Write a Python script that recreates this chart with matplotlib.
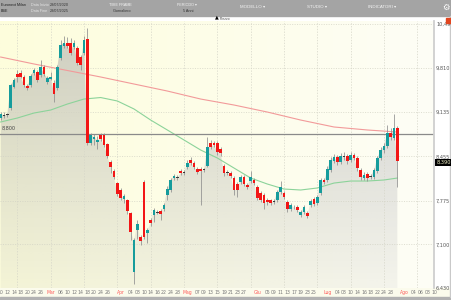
import numpy as np
import pandas as pd
import matplotlib
matplotlib.use("Agg")
import matplotlib.pyplot as plt
from matplotlib.patches import Polygon, Rectangle
from matplotlib.colors import to_rgb

# ---- values (daily candles, Borsa Italiana calendar) ----
START = "2025-02-10"
HOLIDAYS = ["2025-04-18", "2025-04-21", "2025-05-01"]

opens = [9044, 9090, 9090, 9198, 9521, 9721, 9736, 9675, 9536, 9552,
         9736, 9752, 9705, 9828, 9598, 9644, 9582, 9506, 9967, 10152,
         10198, 10198, 10136, 10121, 9982, 10044, 10259, 8660, 8721, 8675,
         8783, 8783, 8644, 8367, 8229, 8044, 7937, 7799, 7783, 7583,
         6677, 7322, 7214, 8060, 7275, 7475, 7552, 7598, 7614, 7645,
         7860, 7937, 8121, 8137, 8229, 8214, 8291, 8398, 8352, 8260,
         8260, 8260, 8306, 8660, 8660, 8660, 8567, 8306, 8214, 8198,
         8121, 8029, 8060, 8137, 8014, 8075, 8091, 7983, 7891, 7860,
         7783, 7783, 7752, 7783, 7906, 7891, 7752, 7645, 7675, 7675,
         7552, 7598, 7583, 7706, 7799, 7737, 7891, 8091, 8091, 8244,
         8383, 8444, 8367, 8444, 8460, 8398, 8475, 8429, 8244, 8121,
         8183, 8137, 8137, 8229, 8429, 8552, 8614, 8813, 8737, 8890]
closes = [9106, 9080, 9106, 9552, 9629, 9675, 9675, 9552, 9506, 9690,
          9782, 9629, 9828, 9721, 9659, 9675, 9413, 9828, 10167, 10198,
          10152, 10044, 10198, 9890, 9859, 10244, 8660, 8783, 8752, 8706,
          8721, 8629, 8460, 8291, 8137, 7875, 7814, 7845, 7614, 7291,
          7168, 7414, 7153, 7214, 7322, 7429, 7629, 7590, 7568, 7706,
          7952, 8091, 8152, 8121, 8198, 8206, 8352, 8352, 8291, 8214,
          8229, 8244, 8598, 8598, 8629, 8521, 8506, 8198, 8198, 8152,
          7937, 7937, 8137, 8029, 7983, 8137, 8044, 7814, 7783, 7737,
          7752, 7737, 7768, 7906, 7983, 7829, 7645, 7706, 7668, 7629,
          7598, 7675, 7537, 7768, 7721, 7829, 8091, 8060, 8260, 8398,
          8444, 8367, 8460, 8460, 8383, 8475, 8429, 8275, 8137, 8168,
          8121, 8152, 8244, 8429, 8552, 8614, 8813, 8752, 8890, 8390]
highs = [9136, 9136, 9120, 9567, 9659, 9782, 9782, 9705, 9567, 9721,
         9813, 9782, 9936, 9859, 9690, 9752, 9629, 9859, 10244, 10305,
         10290, 10275, 10244, 10152, 10013, 10305, 10428, 8813, 8798, 8767,
         8813, 8813, 8660, 8398, 8260, 8060, 7967, 7875, 7799, 7598,
         7199, 7475, 7245, 8091, 7352, 7506, 7660, 7629, 7645, 7737,
         7998, 8121, 8183, 8168, 8260, 8244, 8398, 8444, 8383, 8291,
         8291, 8275, 8752, 8706, 8691, 8691, 8598, 8337, 8244, 8229,
         8152, 8060, 8168, 8168, 8044, 8229, 8121, 8014, 7921, 7891,
         7814, 7799, 7799, 7937, 8075, 7921, 7783, 7737, 7706, 7706,
         7629, 7706, 7614, 7799, 7829, 7860, 8121, 8121, 8306, 8444,
         8490, 8475, 8506, 8521, 8490, 8521, 8506, 8460, 8275, 8214,
         8214, 8183, 8275, 8460, 8598, 8660, 8936, 8890, 9106, 8921]
lows = [9013, 9044, 9060, 9167, 9506, 9598, 9659, 9521, 9475, 9521,
        9705, 9598, 9675, 9690, 9567, 9629, 9290, 9475, 9936, 10121,
        10121, 10013, 10105, 9859, 9782, 10013, 8629, 8629, 8629, 8567,
        8691, 8598, 8429, 8198, 8106, 7845, 7783, 7737, 7568, 7168,
        6492, 7183, 7091, 7183, 7122, 7383, 7445, 7568, 7475, 7614,
        7783, 7906, 8091, 8091, 8168, 8168, 8260, 8321, 8260, 8183,
        7706, 8214, 8291, 8567, 8598, 8475, 8460, 8152, 8168, 8121,
        7860, 7829, 8029, 7998, 7952, 8044, 8014, 7783, 7752, 7645,
        7706, 7706, 7721, 7752, 7875, 7799, 7598, 7614, 7645, 7598,
        7522, 7568, 7506, 7675, 7691, 7706, 7860, 8029, 8060, 8214,
        8352, 8321, 8337, 8398, 8337, 8367, 8398, 8229, 8091, 8091,
        8075, 8106, 8106, 8198, 8398, 8506, 8583, 8706, 8706, 7983]

# moving averages sampled every few sessions (+ last session)
ma_slow_step = 10
ma_slow = [9982, 9875, 9775, 9675, 9567, 9459, 9336, 9244, 9136, 9013,
           8906, 8860, 8829]
ma_fast_step = 5
ma_fast = [8983, 9044, 9121, 9167, 9259, 9336, 9359, 9306, 9183, 9013,
           8860, 8706, 8552, 8429, 8275, 8121, 8029, 7952, 7937, 7968,
           8044, 8075, 8075, 8091, 8121]

ref_level = 8800
price_ticks = [10490, 9810, 9135, 8455, 7775, 7100, 6430]
tick_dates = ["2025-02-10", "2025-02-12", "2025-02-14", "2025-02-18", "2025-02-20",
              "2025-02-24", "2025-02-26",
              "2025-03-03", "2025-03-06", "2025-03-10", "2025-03-12", "2025-03-14",
              "2025-03-18", "2025-03-20", "2025-03-24", "2025-03-26",
              "2025-04-01", "2025-04-04", "2025-04-08", "2025-04-10", "2025-04-14",
              "2025-04-16", "2025-04-22", "2025-04-24", "2025-04-28",
              "2025-05-02", "2025-05-07", "2025-05-09", "2025-05-13", "2025-05-15",
              "2025-05-19", "2025-05-21", "2025-05-23", "2025-05-27",
              "2025-06-02", "2025-06-05", "2025-06-09", "2025-06-11", "2025-06-13",
              "2025-06-17", "2025-06-19", "2025-06-23", "2025-06-25",
              "2025-07-01", "2025-07-04", "2025-07-08", "2025-07-10", "2025-07-14",
              "2025-07-16", "2025-07-18", "2025-07-22", "2025-07-24", "2025-07-28",
              "2025-08-01", "2025-08-04", "2025-08-06", "2025-08-08", "2025-08-10"]
MESI = {2: "Feb", 3: "Mar", 4: "Apr", 5: "Mag", 6: "Giu", 7: "Lug", 8: "Ago"}

TEAL = "#169c9c"
RED = "#f21616"
W, H = 452, 300
TB_FONT = ["Liberation Sans", "DejaVu Sans"]


def fpos(x, y):
    """pixel (from top-left) -> figure fraction"""
    return x / W, 1 - y / H


# ---- calendar: trading days for the candles, calendar days after the last one ----
n = len(closes)
traded = pd.bdate_range(START, "2025-12-31", freq="C", holidays=HOLIDAYS)[:n]
future = pd.date_range(traded[-1] + pd.Timedelta(days=1), periods=30, freq="D")
days = traded.append(future)
idx = np.arange(n)
tpos = days.get_indexer(pd.to_datetime(tick_dates))
tlabels, tcolors = [], []
for d in pd.to_datetime(tick_dates):
    first = len(pd.bdate_range(d.replace(day=1), d, freq="C", holidays=HOLIDAYS)) == 1
    tlabels.append(MESI[d.month] if first else f"{d.day:02d}")
    tcolors.append("#ff5a5a" if first else "#7a7a7a")

fig = plt.figure(figsize=(W / 100, H / 100), dpi=100)
fig.patch.set_facecolor("white")

# top toolbar
fig.add_artist(Rectangle(fpos(0, 16), 1, 16 / H, transform=fig.transFigure,
                         color="#a4a4a4", zorder=0))
sm = dict(fontsize=2.7, va="center", family=TB_FONT)
fig.text(*fpos(1, 5), "Euronext Milan", color="#222222", **sm)
fig.text(*fpos(1, 11), "BSE", color="#222222", **sm)
fig.text(*fpos(31, 5), "Data Inizio", color="#e6e6e6", **sm)
fig.text(*fpos(31, 11), "Data Fine", color="#e6e6e6", **sm)
fig.text(*fpos(50, 5), "28/07/2020", color="#333333", **sm)
fig.text(*fpos(50, 11), "28/07/2025", color="#333333", **sm)
fig.text(*fpos(120, 5), "TIME FRAME", color="#f4f4f4", ha="center", **sm)
fig.text(*fpos(122, 11), "Giornaliero", color="#333333", ha="center", **sm)
fig.text(*fpos(187, 5), "PERIODO \u25be", color="#f4f4f4", ha="center", **sm)
fig.text(*fpos(188, 11), "5 Anni", color="#333333", ha="center", **sm)
mn = dict(fontsize=3.2, va="center", ha="center", family=TB_FONT, color="#f4f4f4")
fig.text(*fpos(253, 7.5), "MODELLO \u25be", **mn)
fig.text(*fpos(317, 7.5), "STUDIO \u25be", **mn)
fig.text(*fpos(382, 7.5), "INDICATORI \u25be", **mn)
fig.text(*fpos(446, 7.5), "\u2699", color="white", ha="center", va="center", fontsize=6)
fig.text(*fpos(217, 17), "\u25b2", color="black", ha="center", va="center", fontsize=3.5)
fig.text(*fpos(220, 18.5), "Prezzo", color="#444444", va="center", fontsize=2.4,
         family=TB_FONT)
fig.add_artist(Rectangle(fpos(446, 23), 5 / W, 5 / H, transform=fig.transFigure,
                         color="#e2451f", zorder=3))

# date strip and bottom band
fig.add_artist(Rectangle(fpos(0, 297), 1, 9 / H, transform=fig.transFigure,
                         color="#fbfbec", zorder=0))
fig.add_artist(Rectangle(fpos(0, 300), 1, 3 / H, transform=fig.transFigure,
                         color="#b2b2b2", zorder=0))
fig.add_artist(Rectangle(fpos(450, 297), 2 / W, 281 / H, transform=fig.transFigure,
                         color="#c9c9c9", zorder=0))

# ---- main price panel ----
ax = fig.add_axes([0, 12 / H, 434 / W, 267 / H])
x0, x1 = -0.2, 130.0
y0, y1 = 6430, 10536
ax.set_xlim(x0, x1)
ax.set_ylim(y0, y1)

# background gradient (yellow left -> whiter right)
left, right = np.array(to_rgb("#fdfddc")), np.array(to_rgb("#fefef6"))
t = np.linspace(0, 1, 200)[None, :, None]
bg = left * (1 - t) + right * t
ax.imshow(bg, extent=[x0, x1, y0, y1], aspect="auto", zorder=0, origin="lower")

# area under the close, grey fading to the bottom
poly = Polygon(list(zip(idx, closes)) + [(idx[-1], y0), (idx[0], y0)],
               closed=True, facecolor="none", edgecolor="none")
ax.add_patch(poly)
grey = np.array(to_rgb("#8a8a96"))
a = np.linspace(0.08, 0.42, 200)[:, None]
area = np.zeros((200, 1, 4))
area[..., :3] = grey
area[..., 3] = a
im = ax.imshow(area, extent=[x0, x1, y0, y1], aspect="auto", zorder=1, origin="lower")
im.set_clip_path(poly)

# grid
for p in price_ticks:
    ax.axhline(p, color="#d2d2c4", lw=0.5, ls=(0, (1.5, 2)), zorder=1.5)
for g in range(5, int(x1), 10):
    ax.axvline(g, color="#d6d6c8", lw=0.5, ls=(0, (2, 2)), zorder=1.5)

# moving averages
slow_x = list(range(0, n, ma_slow_step)) + [n - 1]
fast_x = list(range(0, n, ma_fast_step)) + [n - 1]
ax.plot(slow_x, ma_slow, color="#f29a9a", lw=0.8, zorder=2)
ax.plot(fast_x, ma_fast, color="#8cd39a", lw=0.8, zorder=2)

# reference level
ax.axhline(ref_level, color="#8a8a8a", lw=0.9, zorder=2.5)
ax.annotate(f"{ref_level:,}", xy=(0, ref_level), xycoords=("axes fraction", "data"),
            xytext=(1.5, 2.2), textcoords="offset points", fontsize=3.5,
            color="#444444", va="bottom")

# candles
o, c, h, l = map(np.array, (opens, closes, highs, lows))
cols = np.where(np.abs(c - o) < 18, "#3a3a3a", np.where(c > o, TEAL, RED))
ax.vlines(idx, l, h, color="#8e8e8e", lw=0.55, zorder=3)
ax.bar(idx, np.maximum(np.abs(c - o), 14), bottom=np.minimum(o, c), width=0.72,
       color=cols, edgecolor="none", zorder=4)

# axes styling
for s in ["top", "left", "bottom"]:
    ax.spines[s].set_visible(False)
ax.spines["right"].set_color("#cfcfcf")
ax.spines["right"].set_linewidth(1.3)
ax.yaxis.tick_right()
ax.set_yticks(price_ticks)
ax.set_yticklabels([f"{p:,}" for p in price_ticks])
ax.tick_params(axis="y", length=0, pad=1.5, labelsize=3.6, labelcolor="#555555")
ax.set_xticks(tpos)
ax.set_xticklabels(tlabels)
ax.tick_params(axis="x", length=0, pad=1.6, labelsize=3.3)
for lab, col in zip(ax.get_xticklabels(), tcolors):
    lab.set_color(col)

# last price tag
ax.annotate(f"{closes[-1]:,}", xy=(1, closes[-1]), xycoords=("axes fraction", "data"),
            xytext=(1.6, -1.5), textcoords="offset points", fontsize=3.6,
            color="#f4f4c8", va="center", annotation_clip=False,
            bbox=dict(boxstyle="square,pad=0.15", fc="black", ec="none"))

fig.savefig("out.png", dpi=100)
